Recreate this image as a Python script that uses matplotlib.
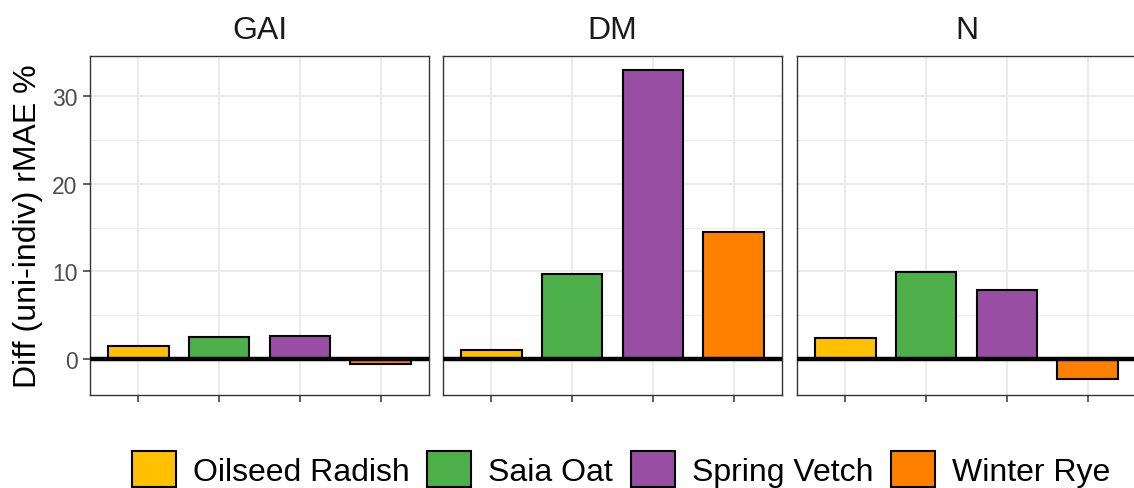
import matplotlib
matplotlib.use("Agg")
import matplotlib.pyplot as plt
from matplotlib.patches import Patch
from matplotlib.ticker import MultipleLocator


plt.rcParams["font.family"] = ["Liberation Sans", "DejaVu Sans"]

W, H = 1134, 489

FACETS = ["GAI", "DM", "N"]
SPECIES = ["Oilseed Radish", "Saia Oat", "Spring Vetch", "Winter Rye"]
COLORS = ["#FFC000", "#4DAF4A", "#984EA3", "#FF7F00"]

GAI_DIFF = [1.5, 2.55, 2.65, -0.55]
DM_DIFF = [1.0, 9.7, 33.0, 14.5]
N_DIFF = [2.45, 9.9, 7.9, -2.3]
VALUES = [GAI_DIFF, DM_DIFF, N_DIFF]

Y_LIM = (-4.1, 34.6)
PANEL_LEFTS = [90, 443, 797]
PANEL_W = 339
PANEL_TOP = 57
PANEL_BOTTOM = 396

GRID = "#EBEBEB"
BORDER = "#333333"


def px_ax(fig, left, top, width, height):
    return fig.add_axes([left / W, 1 - (top + height) / H, width / W, height / H])


def main():
    fig = plt.figure(figsize=(W / 100, H / 100), dpi=100)

    for i, (name, vals) in enumerate(zip(FACETS, VALUES)):
        ax = px_ax(fig, PANEL_LEFTS[i], PANEL_TOP, PANEL_W, PANEL_BOTTOM - PANEL_TOP)
        x = range(1, len(SPECIES) + 1)
        ax.bar(x, vals, width=0.75, color=COLORS, edgecolor="black", linewidth=1.5, zorder=3)
        ax.axhline(0, color="black", linewidth=3.2, zorder=4)

        ax.set_xlim(0.4, 4.6)
        ax.set_ylim(*Y_LIM)
        ax.yaxis.set_major_locator(MultipleLocator(10))
        ax.yaxis.set_minor_locator(MultipleLocator(5))
        ax.set_xticks(list(x))
        ax.set_xticklabels([])
        ax.grid(True, which="major", color=GRID, linewidth=1.4, zorder=0)
        ax.grid(True, which="minor", axis="y", color=GRID, linewidth=0.7, zorder=0)
        ax.set_axisbelow(True)

        for spine in ax.spines.values():
            spine.set_color(BORDER)
            spine.set_linewidth(1.0)

        ax.tick_params(axis="both", which="major", length=5, width=1.1, color=BORDER,
                       labelsize=16.5, labelcolor="#4D4D4D", pad=4)
        ax.tick_params(axis="y", which="minor", length=0)
        if i > 0:
            ax.tick_params(axis="y", which="major", length=0, labelleft=False)

        ax.text(0.5, 1 + (PANEL_TOP - 31) / (PANEL_BOTTOM - PANEL_TOP), name,
                transform=ax.transAxes, ha="center", va="center",
                fontsize=23, color="#1A1A1A")

    fig.text(28 / W, 1 - 226 / H, "Diff (uni-indiv) rMAE %", rotation=90,
             ha="center", va="center", fontsize=23, color="black")

    handles = [Patch(facecolor=c, edgecolor="black", linewidth=1.5) for c in COLORS]
    fig.legend(handles, SPECIES, loc="center", bbox_to_anchor=(621 / W, 1 - 470 / H),
               ncol=4, frameon=False, fontsize=23, handlelength=1.38, handleheight=1.38,
               handletextpad=0.53, columnspacing=0.56, borderaxespad=0)

    fig.savefig("out.png", dpi=100)


if __name__ == "__main__":
    main()
